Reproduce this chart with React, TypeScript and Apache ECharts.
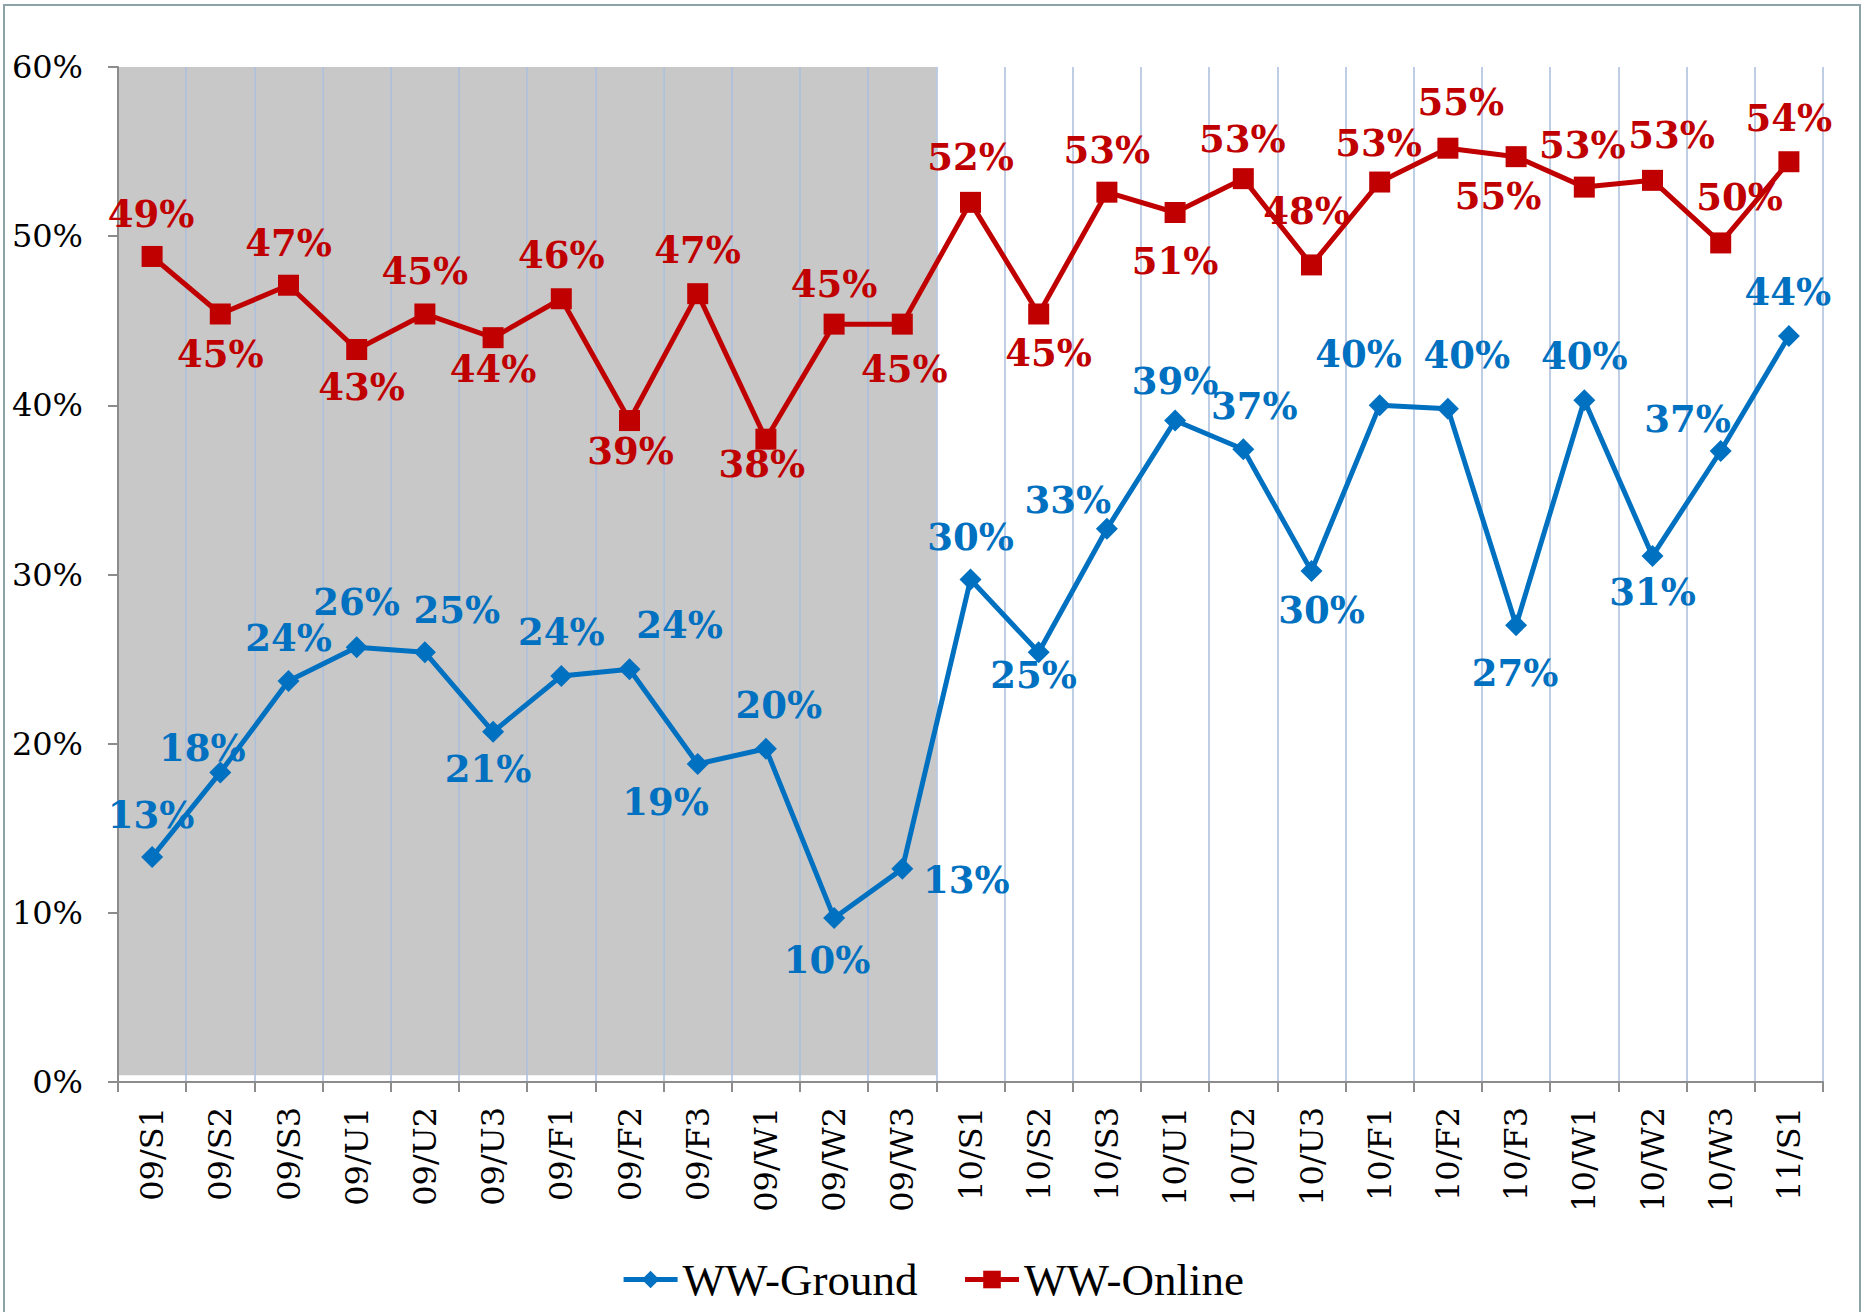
import React, { useEffect, useRef } from "react";
import * as echarts from "echarts";

const categories = [
  "09/S1", "09/S2", "09/S3", "09/U1", "09/U2", "09/U3", "09/F1", "09/F2", "09/F3", "09/W1", "09/W2", "09/W3",
  "10/S1", "10/S2", "10/S3", "10/U1", "10/U2", "10/U3", "10/F1", "10/F2", "10/F3", "10/W1", "10/W2", "10/W3",
  "11/S1",
];

const groundValues = [
  13.3, 18.3, 23.7, 25.7, 25.4, 20.7, 24.0, 24.4, 18.8, 19.7, 9.7, 12.6,
  29.7, 25.4, 32.7, 39.1, 37.4, 30.2, 40.0, 39.8, 27.0, 40.3, 31.1, 37.3, 44.1,
];

const onlineValues = [
  48.8, 45.4, 47.1, 43.3, 45.4, 44.0, 46.3, 39.1, 46.6, 38.0, 44.8, 44.8,
  52.0, 45.4, 52.6, 51.4, 53.4, 48.3, 53.2, 55.2, 54.7, 52.9, 53.3, 49.6, 54.4,
];

// categories covered by the grey shaded period
const shadedCategories = categories.slice(0, 12);
const shadeBottom = 0.4;
const shadeTop = 60;

const yTicks = { min: 0, max: 60, interval: 10 };

// label offsets (px) relative to each marker
const groundLabelOffsets = [
  [-1, -42], [-18, -24], [0, -43], [0, -45], [32, -42], [-5, 37], [0, -44], [50, -44], [-32, 38], [13, -44],
  [-7, 42], [64, 11], [0, -43], [-5, 23], [-39, -29], [0, -40], [11, -43], [10, 39], [-21, -51], [19, -54],
  [-1, 48], [0, -44], [0, 36], [-33, -32], [-1, -44],
];
const onlineLabelOffsets = [
  [-1, -42], [0, 40], [0, -42], [5, 37], [0, -43], [0, 31], [0, -44], [1, 30], [0, -44], [-4, 25],
  [0, -40], [2, 45], [0, -45], [10, 39], [0, -42], [0, 49], [-1, -40], [-5, -54], [-1, -39], [13, -46],
  [-18, 39], [-2, -42], [19, -45], [19, -46], [0, -44],
];

const BLUE = "#0070C0";
const RED = "#C00000";

export default function App() {
  const ref = useRef<HTMLDivElement>(null);

  useEffect(() => {
    document.body.style.margin = "0";
    if (!ref.current) return;
    const chart = echarts.init(ref.current, undefined, { renderer: "svg" });

    const labelBase = {
      show: true,
      position: "inside",
      fontFamily: "DejaVu Serif",
      fontWeight: "bold",
      fontSize: 37,
      formatter: (p: any) => Math.round(p.value) + "%",
    };

    chart.setOption({
      animation: false,
      backgroundColor: "#ffffff",
      graphic: [
        {
          type: "rect",
          shape: { x: 4, y: 5, width: 1856, height: 1330 },
          style: { fill: "none", stroke: "#8ca2a7", lineWidth: 2 },
          silent: true,
          z: 100,
        },
      ],
      grid: { left: 118, right: 42, top: 67, bottom: 230, containLabel: false },
      legend: {
        data: ["WW-Ground", "WW-Online"],
        left: "center",
        top: 1252,
        itemWidth: 54,
        itemHeight: 22,
        itemGap: 45,
        lineStyle: { width: 5 },
        textStyle: { fontFamily: "Liberation Serif", fontSize: 45, color: "#000" },
      },
      xAxis: {
        type: "category",
        data: categories,
        boundaryGap: true,
        z: 1,
        axisLine: { show: true, lineStyle: { color: "#8c8c8c", width: 2 } },
        axisTick: { show: true, length: 10, lineStyle: { color: "#8c8c8c", width: 2 } },
        axisLabel: {
          rotate: 90,
          margin: 25,
          fontFamily: "DejaVu Serif",
          fontSize: 32,
          color: "#000",
        },
        splitLine: { show: true, lineStyle: { color: "#a9bedb", width: 1.5 } },
      },
      yAxis: {
        type: "value",
        min: yTicks.min,
        max: yTicks.max,
        interval: yTicks.interval,
        z: 1,
        axisLine: { show: true, lineStyle: { color: "#8c8c8c", width: 2 } },
        axisTick: { show: true, length: 10, lineStyle: { color: "#8c8c8c", width: 2 } },
        axisLabel: {
          formatter: "{value}%",
          margin: 35,
          fontFamily: "DejaVu Serif",
          fontSize: 32,
          color: "#000",
        },
        splitLine: { show: false },
      },
      series: [
        {
          name: "shadeBase",
          type: "bar",
          stack: "shade",
          z: 0,
          silent: true,
          barCategoryGap: "0%",
          itemStyle: { color: "rgba(0,0,0,0)" },
          data: categories.map((c) => (shadedCategories.includes(c) ? shadeBottom : "-")),
        },
        {
          name: "shade",
          type: "bar",
          stack: "shade",
          z: 0,
          silent: true,
          barCategoryGap: "0%",
          itemStyle: { color: "#c8c8c8" },
          data: categories.map((c) => (shadedCategories.includes(c) ? shadeTop - shadeBottom : "-")),
        },
        {
          name: "WW-Ground",
          type: "line",
          z: 3,
          symbol: "diamond",
          symbolSize: 22,
          lineStyle: { color: BLUE, width: 5 },
          itemStyle: { color: BLUE },
          label: { ...labelBase, color: BLUE },
          data: groundValues.map((v, i) => ({
            value: v,
            label: { offset: groundLabelOffsets[i] },
          })),
        },
        {
          name: "WW-Online",
          type: "line",
          z: 4,
          symbol: "rect",
          symbolSize: 21,
          lineStyle: { color: RED, width: 5 },
          itemStyle: { color: RED },
          label: { ...labelBase, color: RED },
          data: onlineValues.map((v, i) => ({
            value: v,
            label: { offset: onlineLabelOffsets[i] },
          })),
        },
      ],
    });

    return () => chart.dispose();
  }, []);

  return <div ref={ref} style={{ width: 1865, height: 1312 }} />;
}
